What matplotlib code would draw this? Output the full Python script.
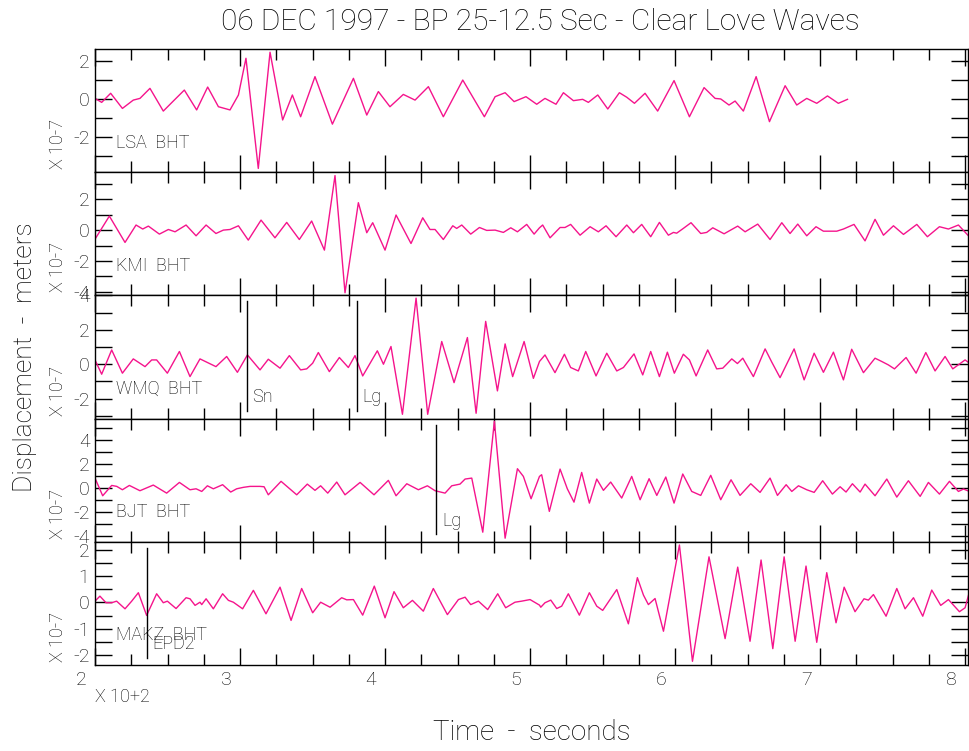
import matplotlib
matplotlib.use("Agg")
import matplotlib.pyplot as plt
import matplotlib.transforms as mtransforms
from matplotlib.ticker import FixedLocator

plt.rcParams['font.family'] = ['Roboto', 'DejaVu Sans']
plt.rcParams['font.weight'] = 'light'

# ---- data (time in seconds, displacement in units of 1e-7 m) ----
lsa_t = [200.0, 204.6, 210.8, 218.9, 226.4, 231.0, 237.9, 247.1, 254.0, 261.6,
         270.1, 277.7, 285.1, 293.1, 298.9, 304.1, 312.6, 320.7, 329.4, 336.1,
         341.8, 351.7, 363.7, 378.2, 387.4, 395.4, 403.4, 412.6, 420.7, 429.9,
         440.2, 453.6, 468.5, 475.9, 482.8, 489.0, 497.2, 504.6,
         510.3, 517.9, 523.0, 529.9, 536.3, 540.2, 546.7, 553.6, 561.6, 566.7,
         572.0, 579.3, 588.0, 599.3, 609.9, 620.0, 627.6, 631.5, 637.2, 641.4,
         647.1, 655.9, 665.1, 675.9, 683.9, 690.8, 697.7, 705.1, 712.6, 718.9]
lsa_v = [0.05, -0.16, 0.32, -0.48, -0.04, 0.05, 0.58, -0.62, -0.09, 0.49,
         -0.56, 0.65, -0.39, -0.56, 0.23, 2.17, -3.65, 2.49, -1.09, 0.23,
         -0.92, 1.2, -1.31, 1.11, -0.83, 0.41, -0.39, 0.26, -0.04, 0.67,
         -0.92, 1.02, -0.92, 0.14, 0.35, -0.12, 0.14, -0.26,
         0.05, -0.26, 0.35, -0.07, 0.0, -0.16, 0.23, -0.51, 0.35, 0.11,
         -0.21, 0.32, -0.62, 0.99, -0.92, 0.62, 0.05, 0.02, -0.3, -0.09,
         -0.62, 1.2, -1.18, 0.72, -0.3, 0.05, -0.21, 0.18, -0.21, 0.0]

kmi_t = [200.0, 209.9, 220.7, 228.3, 232.9, 236.8, 244.4, 250.6, 255.2, 262.8,
         269.7, 276.6, 283.4, 288.5, 293.1, 298.9, 305.7, 314.5, 324.1, 332.2,
         340.9, 349.4, 358.2, 365.5, 372.4, 381.6, 387.4, 391.5, 400.0, 407.6,
         417.9, 426.0, 431.0, 434.5, 440.2, 446.7, 449.4, 452.9, 459.1, 465.1,
         470.1, 475.9, 481.6, 486.7, 491.3, 497.7, 502.8, 506.5,
         508.7, 513.8, 520.7, 524.1, 528.0, 534.5, 541.4, 547.1, 552.4, 559.3,
         566.7, 571.3, 577.0, 583.2, 589.2, 595.4, 598.9, 601.1, 605.7, 611.0,
         617.7, 621.8, 626.0, 633.8, 643.2, 648.3, 657.0, 665.5, 673.6, 679.3,
         684.6, 690.8, 697.2, 702.3, 711.5, 716.1, 723.4, 731.0, 737.9, 743.7,
         750.6, 757.5, 766.7, 774.0, 782.3, 788.5, 795.4, 802.3]
kmi_v = [-0.59, 0.91, -0.8, 0.33, 0.07, 0.26, -0.26, 0.04, -0.11, 0.33,
         -0.37, 0.33, -0.22, 0.0, 0.04, 0.28, -0.65, 0.65, -0.5, 0.5,
         -0.61, 0.59, -1.3, 3.54, -4.07, 1.78, -0.17, 0.48, -1.3, 0.98,
         -0.87, 0.8, 0.04, 0.04, -0.61, 0.28, 0.11, 0.33, -0.26, 0.17,
         -0.02, 0.0, -0.15, 0.15, -0.11, 0.37, -0.26, 0.15,
         0.33, -0.5, 0.17, 0.17, 0.37, -0.33, 0.22, -0.11, 0.28, -0.43,
         0.33, -0.17, 0.37, -0.43, 0.5, -0.33, -0.15, -0.2, 0.11, 0.48,
         -0.22, -0.15, 0.15, -0.24, 0.26, -0.11, 0.39, -0.61, 0.48, -0.22,
         0.39, -0.37, 0.22, -0.07, -0.07, 0.07, 0.37, -0.7, 0.7, -0.33,
         0.28, -0.28, 0.37, -0.43, 0.22, 0.07, 0.33, -0.37]

wmq_t = [200.0, 204.6, 211.5, 218.9, 226.4, 234.5, 239.1, 242.5, 249.9, 258.2,
         265.5, 272.4, 283.4, 290.8, 298.2, 305.1, 313.8, 319.5, 327.6, 334.0,
         341.8, 346.0, 350.1, 354.0, 361.6, 368.5, 374.7, 379.3, 384.6, 394.7,
         398.9, 404.1, 412.0, 421.4, 429.4, 439.1, 447.6, 456.8, 462.8, 469.4,
         477.5, 482.8, 488.0, 495.9, 502.3, 506.5,
         510.3, 517.2, 523.7, 528.0, 533.3, 538.4, 545.5, 552.9, 559.8, 564.4,
         571.7, 577.7, 583.2, 589.2, 594.7, 599.5, 605.7, 609.9, 614.5, 622.5,
         628.7, 632.9, 639.1, 643.0, 646.7, 654.0, 662.1, 666.7, 672.4, 682.1,
         689.0, 695.9, 702.3, 709.2, 716.1, 721.8, 729.9, 737.9, 742.5, 747.1,
         751.3, 759.3, 766.2, 772.9, 779.3, 786.2, 791.5, 800.0, 803.0]
wmq_v = [0.25, -0.58, 0.83, -0.52, 0.31, -0.14, 0.25, 0.25, -0.52, 0.74,
         -0.72, 0.31, -0.14, 0.45, -0.47, 0.54, -0.33, 0.29, -0.23, 0.5,
         -0.33, -0.27, 0.06, 0.68, -0.43, 0.39, -0.19, 0.5, -0.68, 0.78,
         0.0, 1.03, -2.91, 3.84, -2.91, 1.32, -1.07, 1.55, -2.85, 2.49,
         -1.55, 1.18, -0.72, 1.32, -0.82, 0.16,
         0.54, -0.49, 0.58, -0.19, -0.39, 0.74, -0.68, 0.64, -0.39, -0.19,
         0.6, -0.62, 0.74, -0.72, 0.7, -0.52, 0.58, 0.25, -0.68, 0.83,
         -0.27, -0.23, 0.31, 0.04, 0.35, -0.72, 0.89, 0.12, -0.78, 0.89,
         -0.91, 0.64, -0.47, 0.7, -0.91, 0.87, -0.49, 0.35, 0.16, -0.04,
         -0.27, 0.39, -0.52, 0.68, -0.39, 0.45, -0.27, 0.25, 0.06]

bjt_t = [200.0, 205.3, 211.5, 215.0, 218.9, 223.7, 231.0, 240.2, 249.4, 258.2,
         265.5, 269.7, 273.6, 277.5, 281.6, 288.0, 293.6, 297.7, 302.3, 306.9,
         313.8, 316.6, 319.5, 328.3, 339.1, 346.4, 351.7, 355.6, 360.5, 366.7,
         372.4, 382.8, 392.4, 402.3, 407.6, 415.0, 423.0, 429.2, 434.5, 441.4,
         446.0, 451.7, 455.2, 459.8, 467.4, 475.4, 482.8, 491.3, 495.4, 500.7,
         506.5,
         508.0, 513.3, 520.7, 525.7, 530.3, 535.6, 540.9, 546.0, 550.6, 555.6,
         563.2, 570.1, 575.9, 582.1, 587.4, 593.6, 599.3, 605.3, 611.5, 617.7,
         624.6, 631.5, 638.6, 644.8, 652.2, 658.6, 665.5, 670.6, 676.6, 680.5,
         685.1, 690.8, 695.9, 701.8, 708.5, 713.8, 717.9, 722.3, 727.6, 731.0,
         737.9, 746.0, 752.9, 760.9, 769.0, 774.7, 782.3, 789.2, 795.4, 798.9,
         803.0]
bjt_v = [0.83, -0.64, 0.22, 0.14, -0.14, 0.22, -0.22, 0.25, -0.42, 0.47,
         -0.14, -0.06, -0.28, 0.19, -0.06, 0.28, -0.33, -0.06, 0.06, 0.14,
         0.14, 0.11, -0.56, 0.56, -0.56, 0.33, -0.19, 0.19, -0.42, 0.5,
         -0.56, 0.47, -0.56, 0.64, -0.64, 0.36, -0.14, 0.19, -0.22, -0.42,
         0.19, 0.33, 0.75, 0.83, -3.67, 5.56, -4.17, 1.61, 0.97, -0.89,
         0.97,
         1.11, -1.94, 1.58, -0.06, -1.17, 1.3, -1.25, 0.75, -0.19, 0.5,
         -0.83, 0.97, -0.97, 0.78, -0.61, 0.92, -1.25, 1.17, -0.28, -0.61,
         1.06, -0.97, 0.69, -0.61, 0.36, -0.36, 0.83, -0.61, 0.28, -0.28,
         0.19, -0.14, -0.36, 0.61, -0.5, 0.11, -0.33, 0.36, -0.33, 0.33,
         -0.64, 0.75, -0.75, 0.61, -0.69, 0.47, -0.5, 0.56, -0.28, -0.08,
         -0.28]

makz_t = [200.0, 203.4, 207.6, 211.5, 214.9, 220.7, 225.3, 229.9, 235.6, 242.5,
          247.1, 249.9, 255.9, 262.8, 265.5, 269.0, 272.4, 273.6, 276.6, 281.6,
          288.0, 292.0, 295.4, 301.8, 309.2, 317.9, 327.6, 335.2, 342.5, 350.1,
          355.6, 362.1, 370.1, 373.6, 378.2, 384.6, 392.6, 400.0, 406.2, 412.6,
          418.9, 426.4, 433.3, 443.0, 450.6, 455.2, 459.1, 464.4, 470.8, 477.7,
          483.2, 489.6, 494.2, 500.0, 506.5,
          507.4, 510.3, 514.3, 518.4, 521.8, 526.4, 534.0, 540.9, 546.0, 550.1,
          559.8, 567.8, 574.0, 578.2, 581.6, 586.2, 592.0, 603.0, 612.0, 623.4,
          634.5, 643.2, 651.7, 659.3, 667.4, 675.2, 682.8, 690.3, 697.7, 704.6,
          711.0, 716.6, 724.1, 730.3, 733.3, 736.8, 745.5, 752.9, 758.6, 764.4,
          770.8, 777.0, 783.2, 788.5, 796.1, 800.0, 803.0]
makz_v = [0.05, 0.24, -0.01, -0.01, 0.05, -0.24, 0.05, 0.37, -0.49, 0.33,
          -0.01, 0.05, -0.23, 0.18, 0.14, -0.11, 0.01, -0.08, 0.14, -0.24,
          0.33, 0.08, 0.01, -0.24, 0.46, -0.43, 0.58, -0.68, 0.53, -0.39,
          0.01, -0.18, 0.18, 0.1, 0.11, -0.48, 0.62, -0.58, 0.41, -0.2,
          0.08, -0.33, 0.53, -0.46, 0.11, 0.2, -0.08, 0.05, -0.27, 0.33,
          -0.2, 0.01, 0.05, 0.11, -0.1,
          -0.18, -0.01, 0.09, -0.23, -0.14, 0.33, -0.48, 0.37, -0.14, -0.3,
          0.49, -0.81, 0.94, 0.28, -0.08, 0.15, -1.09, 2.18, -2.23, 1.73,
          -1.37, 1.34, -1.47, 1.61, -1.75, 1.73, -1.47, 1.38, -1.51, 1.13,
          -0.77, 0.58, -0.35, 0.14, 0.09, 0.3, -0.52, 0.53, -0.24, 0.18,
          -0.52, 0.47, -0.11, 0.11, -0.35, -0.2, 0.41]

stations = ["LSA  BHT", "KMI  BHT", "WMQ  BHT", "BJT  BHT", "MAKZ  BHT"]
times = [lsa_t, kmi_t, wmq_t, bjt_t, makz_t]
values = [lsa_v, kmi_v, wmq_v, bjt_v, makz_v]
ylims = [(-3.85, 2.66), (-4.24, 3.76), (-3.16, 4.0), (-4.47, 5.78), (-2.37, 2.3)]
yticks_major = [[-2, 0, 2], [-4, -2, 0, 2], [-2, 0, 2, 4], [-4, -2, 0, 2, 4],
                [-2, -1, 0, 1, 2]]
yticks_minor = [[-3, -1, 1], [-3, -1, 1, 3], [-3, -1, 1, 3], [-3, -1, 1, 3, 5],
                [-1.5, -0.5, 0.5, 1.5]]

# phase picks: panel, time, label, line top, line bottom, label height
picks = [(2, 304.6, "Sn", 3.65, -2.72, -1.9),
         (2, 380.5, "Lg", 3.65, -2.72, -1.9),
         (3, 435.2, "Lg", 5.28, -3.83, -2.7),
         (4, 235.6, "EPD2", 2.08, -2.1, -1.57)]

xticks = [200, 300, 400, 500, 600, 700, 800]
xlabels = ["2", "3", "4", "5", "6", "7", "8"]

trace_color = "#f5148c"
txt = "#000000"

W, H = 970, 751
fig = plt.figure(figsize=(W / 100, H / 100), dpi=100)

left, right = 95, 968
top, ph = 49, 123.2
axes = []
for i in range(5):
    y0 = top + i * ph
    ax = fig.add_axes([left / W, 1 - (y0 + ph) / H, (right - left) / W, ph / H])
    axes.append(ax)
    ax.plot(times[i], values[i], color=trace_color, lw=1.0)
    ax.set_xlim(200, 802)
    ax.set_ylim(*ylims[i])
    ax.yaxis.set_major_locator(FixedLocator(yticks_major[i]))
    ax.yaxis.set_minor_locator(FixedLocator(yticks_minor[i]))
    ax.set_xticks(xticks)
    ax.xaxis.set_minor_locator(FixedLocator(list(range(225, 800, 25))))
    ax.tick_params(which="both", direction="in", top=True, right=True,
                   labelsize=14, labelcolor=txt, width=1, pad=4)
    ax.tick_params(axis="x", which="major", length=12)
    ax.tick_params(axis="x", which="minor", length=8)
    ax.tick_params(axis="y", which="both", length=12)
    ax.set_yticklabels([str(v) for v in yticks_major[i]])
    if i < 4:
        ax.set_xticklabels([])
    else:
        ax.set_xticklabels(xlabels)
        shift = mtransforms.ScaledTranslation(-0.14, 0, fig.dpi_scale_trans)
        for lab in ax.get_xticklabels():
            lab.set_transform(lab.get_transform() + shift)
    for sp in ax.spines.values():
        sp.set_linewidth(1.0)
    ax.text(0.024, 0.24, stations[i], transform=ax.transAxes, fontsize=13,
            color=txt, va="center", ha="left")
    fig.text(58 / W, 1 - (y0 + ph - 28) / H, "X 10-7", rotation=90, fontsize=13,
             color=txt, ha="center", va="center")

for panel, t, lab, ytop, ybot, ylab in picks:
    ax = axes[panel]
    ax.plot([t, t], [ytop, ybot], color="black", lw=1.0)
    ax.text(t + 4, ylab, lab, fontsize=13, color=txt, ha="left", va="center")

fig.text(540 / W, 1 - 22 / H, "06 DEC 1997 - BP 25-12.5 Sec - Clear Love Waves",
         fontsize=21.5, color=txt, ha="center", va="center")
fig.text(25 / W, 1 - 357 / H, "Displacement  -  meters", rotation=90, fontsize=19,
         color=txt, ha="center", va="center")
fig.text(532 / W, 1 - 733 / H, "Time  -  seconds", fontsize=20, color=txt,
         ha="center", va="center")
fig.text(95 / W, 1 - 697 / H, "X 10+2", fontsize=13, color=txt, ha="left",
         va="center")

fig.savefig("out.png", dpi=100)
